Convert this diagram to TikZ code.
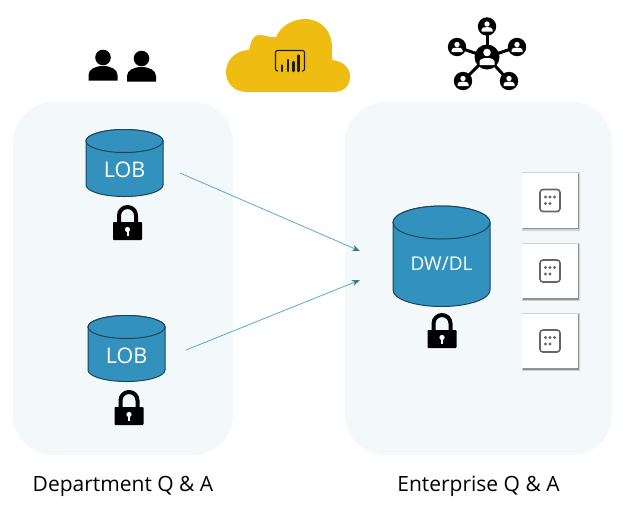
\documentclass[tikz,border=0pt]{standalone}
\usepackage{fontspec}
\setmainfont{Open Sans}
\definecolor{panelbg}{HTML}{F3F8FA}
\definecolor{cylfill}{HTML}{3392BD}
\definecolor{cylline}{HTML}{17465E}
\definecolor{arrowc}{HTML}{5AA9CB}
\definecolor{cloudc}{HTML}{EFBD12}
\definecolor{tileicon}{HTML}{666666}
\usetikzlibrary{arrows.meta}
\tikzset{
  panel/.style={fill=panelbg,draw=none,rounded corners=40pt},
  flow/.style={draw=arrowc,line width=0.8pt,-{Stealth[length=8pt,width=6pt,color=arrowc!70!black]}},
  caption/.style={font=\fontsize{21}{24}\selectfont,text=black,inner sep=0pt},
  cyllabel/.style={text=white,inner sep=0pt},
  cylbody/.style={fill=cylfill,draw=cylline,line width=1pt},
  lockicon/.pic={
    \fill[black,rounded corners=0.8pt] (-14.5,17) rectangle (14.5,35);
    \draw[black,line width=4pt] (-8.5,18) -- (-8.5,10.5) arc (180:360:8.5) -- (8.5,18);
    \fill[white] (0,24.5) circle (2.6);
    \fill[white] (-1,25) rectangle (1,30.5);
  },
  personicon/.pic={
    \fill circle (7.8);
    \fill (-14.5,23) -- (-14.5,17.5) .. controls (-14.5,12) and (-8,8.5) .. (0,8.5) .. controls (8,8.5) and (14.5,12) .. (14.5,17.5) -- (14.5,23) -- cycle;
  },
  tileicon/.pic={
    \fill[black!60,opacity=.25] (-28.5,-28.5) rectangle (30,30);
    \fill[black!60,opacity=.6] (-27.5,-27) rectangle (29,28.8);
    \fill[white] (-28,-27.5) rectangle (28,27);
    \draw[tileicon,line width=1.6pt,rounded corners=3pt] (-10,-11) rectangle (10,11);
    \foreach \dx/\dy in {-4.5/-3.5,0/-3.5,4.5/-3.5,-4.5/3,0/3}
      \fill[tileicon] (\dx,\dy) circle (1.7);
  },
  netnode/.pic={
    \fill[black] circle (9.2);
    \fill[white] (0,-2.5) circle (2.7);
    \fill[white] (-5.5,5) -- (-5.5,3) .. controls (-5.5,1) and (-3,0.6) .. (0,0.6) .. controls (3,0.6) and (5.5,1) .. (5.5,3) -- (5.5,5) -- cycle;
  }
}
\newcommand{\cylshape}[7]{% name, xl, xr, ytop-centre, ybot-centre, ry, text
  \path[cylbody] (#2,#4) -- (#2,#5) arc[x radius={(#3-#2)/2},y radius=#6,start angle=180,end angle=0] -- (#3,#4) arc[x radius={(#3-#2)/2},y radius=#6,start angle=0,end angle=-180] -- cycle;
  \draw[cylbody] ({(#2+#3)/2},#4) ellipse [x radius={(#3-#2)/2},y radius=#6];
  \node[cyllabel] (#1) at ({(#2+#3)/2},{#4+(#5-#4)/2+7}) {#7};
}
\begin{document}
\begin{tikzpicture}[x=1pt,y=-1pt]
\useasboundingbox (0,0) rectangle (623,507);
% panels
\path[panel] (13,102) rectangle (233,455);
\path[panel] (345,102) rectangle (612,455);
% people
\pic[black] at (103,57.5) {personicon};
\pic[black] at (141.5,58.5) {personicon};
% cloud
\fill[cloudc] (247,92) .. controls (234,92) and (226,83) .. (226,72)
  .. controls (226,60) and (236,50) .. (249,50)
  .. controls (251,44) and (251,35) .. (260,35)
  .. controls (266,35) and (270,38) .. (276,37)
  .. controls (280,27) and (292,19) .. (305,19)
  .. controls (321,19) and (332,31) .. (332,47)
  .. controls (332,52) and (332,56) .. (332,60)
  .. controls (342,61) and (350,67) .. (350,76)
  .. controls (350,86) and (344,92) .. (333,92) -- cycle;
\draw[black!85!cloudc,line width=1.1pt,rounded corners=2pt] (278,71) -- (275.5,71) -- (275.5,50.5) -- (304.5,50.5) -- (304.5,71) -- (302,71);
\foreach \bx/\by in {282/65.5,288/60,293.5/62,298.5/55.5}
  \draw[black!85!cloudc,line width=2.4pt,line cap=round] (\bx,\by) -- (\bx,71);
% network icon
\coordinate (hub) at (487,57);
\coordinate (n1) at (487,26.5);
\coordinate (n2) at (457,47);
\coordinate (n3) at (517,47);
\coordinate (n4) at (463,81);
\coordinate (n5) at (509,81);
\foreach \n in {n1,n2,n3,n4,n5} \draw[black,line width=3pt] (hub) -- (\n);
\foreach \n in {n1,n2,n3,n4,n5} \pic at (\n) {netnode};
\fill[black] (hub) circle (12.5);
\fill[white] (487,52.5) circle (3.8);
\fill[white] (479.5,65) -- (479.5,62) .. controls (479.5,59) and (483,58) .. (487,58) .. controls (491,58) and (494.5,59) .. (494.5,62) -- (494.5,65) -- cycle;
% cylinders
\cylshape{lobA}{86}{163}{141}{185}{11.5}{\fontsize{21.5}{24}\selectfont LOB}
\cylshape{lobB}{88}{165}{327}{370}{11.5}{\fontsize{21.5}{24}\selectfont LOB}
\cylshape{dwdl}{393}{490}{222.5}{290}{16.5}{\fontsize{19}{24}\selectfont DW/DL}
% locks
\pic at (127.5,205) {lockicon};
\pic at (129,390) {lockicon};
\pic at (442,313) {lockicon};
% tiles
\pic at (550,200.5) {tileicon};
\pic at (550,271) {tileicon};
\pic at (550,341) {tileicon};
% arrows
\coordinate (a1s) at (180,173);
\coordinate (a1e) at (360,251);
\coordinate (a2s) at (186,350);
\coordinate (a2e) at (360,280);
\draw[flow] (a1s) -- (a1e);
\draw[flow] (a2s) -- (a2e);
% captions
\node[caption] (deptcap) at (123,486) {Department Q \& A};
\node[caption] (entcap) at (478.5,486) {Enterprise Q \& A};
\end{tikzpicture}
\end{document}
